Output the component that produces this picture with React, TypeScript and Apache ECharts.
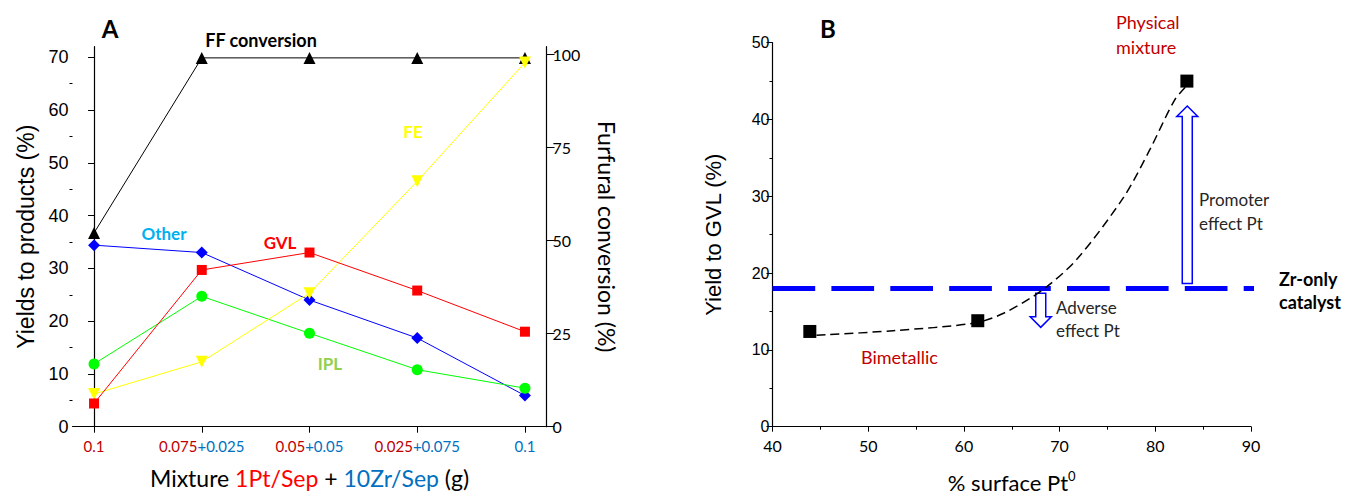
import React, { useEffect, useRef } from 'react';
import * as echarts from 'echarts';

// ---------- Panel A data ----------
const catRed = ['0.1', '0.075', '0.05', '0.025', ''];
const catBlue = ['', '+0.025', '+0.05', '+0.075', '0.1'];
const catPos = [0, 1, 2, 3, 4];
const gvl = [4.4, 29.7, 33.0, 25.8, 18.0];
const other = [34.4, 33.0, 24.0, 16.8, 5.9];
const ipl = [11.9, 24.7, 17.7, 10.8, 7.3];
const fe = [6.2, 12.3, 25.3, 46.5, 69.0];
const ffConversion = [52, 99, 99, 99, 99];
const leftTicks = [0, 10, 20, 30, 40, 50, 60, 70];
const leftMinorTicks = [5, 15, 25, 35, 45, 55, 65];
const rightTicks = [0, 25, 50, 75, 100];

// ---------- Panel B data ----------
const surfacePt = [43.9, 61.45, 83.3];
const yieldGVL = [12.4, 13.8, 45.0];
const fitX = [44.6, 52.6, 61.1, 64.2, 68.2, 71.8, 76.7, 79.4, 82.0, 83.2];
const fitY = [11.9, 12.5, 13.5, 14.8, 17.8, 21.8, 29.9, 36.0, 42.5, 44.3];
const zrOnlyYield = 18;
const zrLineX = [40, 93.1];
// [x, from, to]
const effectArrows = [
  [83.34, 18.65, 41.76],
  [68.03, 17.37, 12.94],
];

const pair = (xs: number[], ys: number[]) => xs.map((x, i) => [x, ys[i]]);

const LATO = 'Lato, "Open Sans", sans-serif';
const ARIAL = '"Liberation Sans", Arial, sans-serif';

export default function App() {
  const ref = useRef<HTMLDivElement>(null);
  useEffect(() => {
    document.body.style.margin = '0';
    const chart = echarts.init(ref.current!, null, { renderer: 'svg' });
    const axisLine = { show: true, lineStyle: { color: '#000', width: 1.2 } };
    const txt = (x: number, y: number, text: string, fill: string, size: number, bold = false, align = 'left', font = LATO) => ({
      type: 'text', x, y,
      style: { text, fill, fontSize: size, fontWeight: bold ? 'bold' : 'normal', fontFamily: font, textAlign: align, textVerticalAlign: 'middle' },
    });

    const option: any = {
      animation: false,
      textStyle: { fontFamily: LATO },
      grid: [
        { left: 72.5, top: 46.7, width: 474, height: 380, outerBoundsMode: 'none', containLabel: false },
        { left: 772.5, top: 42.7, width: 478.5, height: 384, outerBoundsMode: 'none', containLabel: false },
      ],
      xAxis: [
        {
          gridIndex: 0, type: 'value', min: -0.2, max: 4.2,
          axisLine, splitLine: { show: false },
          axisTick: { show: true, customValues: catPos, length: 6, lineStyle: { color: '#000' } },
          axisLabel: {
            customValues: catPos, margin: 12,
            formatter: (v: number) => {
              const i = Math.round(v);
              let s = '';
              if (catRed[i]) s += `{r|${catRed[i]}}`;
              if (catBlue[i]) s += `{b|${catBlue[i]}}`;
              return s;
            },
            rich: {
              r: { color: '#c00000', fontSize: 15, fontFamily: LATO },
              b: { color: '#0070c0', fontSize: 15, fontFamily: LATO },
            },
          },
          name: '{k|Mixture }{r|1Pt/Sep}{k| + }{b|10Zr/Sep}{k| (g)}',
          nameLocation: 'middle', nameGap: 40,
          nameTextStyle: {
            rich: {
              k: { color: '#000', fontSize: 23, fontFamily: LATO },
              r: { color: '#ff0000', fontSize: 23, fontFamily: LATO },
              b: { color: '#0070c0', fontSize: 23, fontFamily: LATO },
            },
          },
        },
        {
          gridIndex: 1, type: 'value', min: 40, max: 90, interval: 10,
          axisLine, splitLine: { show: false },
          axisTick: { show: true, length: 5, lineStyle: { color: '#000' } },
          minorTick: { show: true, splitNumber: 2, length: 3, lineStyle: { color: '#000' } },
          axisLabel: { color: '#000', fontSize: 16, fontFamily: LATO, margin: 11 },
          name: '{k|% surface Pt}{s|0}',
          nameLocation: 'middle', nameGap: 43,
          nameTextStyle: {
            rich: {
              k: { color: '#000', fontSize: 22, fontFamily: LATO },
              s: { color: '#000', fontSize: 13, fontFamily: LATO, verticalAlign: 'top', padding: [0, 0, 13, 0] },
            },
          },
        },
      ],
      yAxis: [
        {
          gridIndex: 0, type: 'value', min: 0, max: 72, position: 'left',
          axisLine, splitLine: { show: false },
          axisTick: { show: true, customValues: leftTicks, length: 6, lineStyle: { color: '#000' } },
          axisLabel: { customValues: leftTicks, color: '#000', fontSize: 18, fontFamily: ARIAL, margin: 4 },
          name: 'Yields to products (%)', nameLocation: 'middle', nameRotate: 90, nameGap: 35,
          nameTextStyle: { color: '#000', fontSize: 23, fontFamily: ARIAL },
        },
        {
          gridIndex: 0, type: 'value', min: 0, max: 72, position: 'left',
          axisLine: { show: false }, splitLine: { show: false },
          axisTick: { show: true, customValues: leftMinorTicks, length: 3, lineStyle: { color: '#000' } },
          axisLabel: { show: false },
        },
        {
          gridIndex: 0, type: 'value', min: 0, max: 102, position: 'right',
          axisLine, splitLine: { show: false },
          axisTick: { show: true, customValues: rightTicks, length: 8, lineStyle: { color: '#000' } },
          axisLabel: { customValues: rightTicks, color: '#000', fontSize: 16, fontFamily: LATO, margin: 6 },
          name: 'Furfural conversion (%)', nameLocation: 'middle', nameRotate: -90, nameGap: 49,
          nameTextStyle: { color: '#000', fontSize: 23, fontFamily: LATO },
        },
        {
          gridIndex: 1, type: 'value', min: 0, max: 50, interval: 10, position: 'left',
          axisLine, splitLine: { show: false },
          axisTick: { show: true, length: 6, lineStyle: { color: '#000' } },
          minorTick: { show: true, splitNumber: 2, length: 3, lineStyle: { color: '#000' } },
          axisLabel: { color: '#000', fontSize: 16, fontFamily: ARIAL, margin: 3 },
          name: 'Yield to GVL (%)', nameLocation: 'middle', nameRotate: 90, nameGap: 48,
          nameTextStyle: { color: '#000', fontSize: 22, fontFamily: ARIAL },
        },
      ],
      series: [
        {
          name: 'FF conversion', type: 'line', xAxisIndex: 0, yAxisIndex: 2,
          data: pair(catPos, ffConversion), symbol: 'triangle', symbolSize: 12,
          itemStyle: { color: '#000' }, lineStyle: { color: '#000', width: 1 },
        },
        {
          name: 'Other', type: 'line', xAxisIndex: 0, yAxisIndex: 0,
          data: pair(catPos, other), symbol: 'diamond', symbolSize: 12,
          itemStyle: { color: '#0000ff' }, lineStyle: { color: '#0000ff', width: 1 },
        },
        {
          name: 'IPL', type: 'line', xAxisIndex: 0, yAxisIndex: 0,
          data: pair(catPos, ipl), symbol: 'circle', symbolSize: 11,
          itemStyle: { color: '#00ff00' }, lineStyle: { color: '#00ff00', width: 1 },
        },
        {
          name: 'FE', type: 'line', xAxisIndex: 0, yAxisIndex: 0,
          data: pair(catPos, fe), symbol: 'triangle', symbolRotate: 180, symbolSize: 12,
          itemStyle: { color: '#ffff00' }, lineStyle: { color: '#ffff00', width: 1 },
        },
        {
          name: 'GVL', type: 'line', xAxisIndex: 0, yAxisIndex: 0,
          data: pair(catPos, gvl), symbol: 'rect', symbolSize: 10,
          itemStyle: { color: '#ff0000' }, lineStyle: { color: '#ff0000', width: 1 },
        },
        // Panel B
        {
          name: 'Zr-only', type: 'line', xAxisIndex: 1, yAxisIndex: 3, clip: false,
          data: zrLineX.map((x) => [x, zrOnlyYield]), symbol: 'none',
          lineStyle: { color: '#0000ff', width: 5, type: [42.7, 16.2] },
        },
        {
          name: 'fit', type: 'line', xAxisIndex: 1, yAxisIndex: 3, smooth: 0.3,
          data: pair(fitX, fitY), symbol: 'none',
          lineStyle: { color: '#000', width: 1.5, type: [9, 5] },
        },
        {
          name: 'arrows', type: 'custom', xAxisIndex: 1, yAxisIndex: 3,
          data: effectArrows, encode: { x: 0, y: [1, 2] },
          renderItem: (params: any, api: any) => {
            const x = api.value(0), y0 = api.value(1), y1 = api.value(2);
            const p0 = api.coord([x, y0]);
            const p1 = api.coord([x, y1]);
            const dir = p1[1] < p0[1] ? -1 : 1;
            const headLen = 10.5, headHalf = 10.5, shaftHalf = 5;
            const cx = p0[0];
            const baseY = p1[1] - dir * headLen;
            return {
              type: 'polygon',
              shape: {
                points: [
                  [cx - shaftHalf, p0[1]], [cx - shaftHalf, baseY], [cx - headHalf, baseY],
                  [cx, p1[1]], [cx + headHalf, baseY], [cx + shaftHalf, baseY], [cx + shaftHalf, p0[1]],
                ],
              },
              style: { fill: '#fff', stroke: '#0000ff', lineWidth: 1.5 },
            };
          },
        },
        {
          name: 'points', type: 'scatter', xAxisIndex: 1, yAxisIndex: 3,
          data: pair(surfacePt, yieldGVL), symbol: 'rect', symbolSize: 13,
          itemStyle: { color: '#000', opacity: 1 },
        },
      ],
      graphic: [
        txt(110, 28, 'A', '#000', 24, true, 'center'),
        txt(261, 40, 'FF conversion', '#000', 18, true, 'center'),
        txt(164, 233, 'Other', '#00b0f0', 17, true, 'center'),
        txt(280, 242, 'GVL', '#ff0000', 17, true, 'center'),
        txt(413, 131, 'FE', '#ffff00', 17, true, 'center'),
        txt(330, 363, 'IPL', '#92d050', 17, true, 'center'),
        txt(828, 28, 'B', '#000', 24, true, 'center'),
        txt(1116, 22, 'Physical', '#c00000', 18),
        txt(1116, 47, 'mixture', '#c00000', 18),
        txt(1199, 199, 'Promoter', '#262626', 17),
        txt(1199, 223, 'effect Pt', '#262626', 17),
        txt(1056, 307, 'Adverse', '#262626', 17),
        txt(1056, 330, 'effect Pt', '#262626', 17),
        txt(861, 357, 'Bimetallic', '#c00000', 18),
        txt(1279, 279, 'Zr-only', '#000', 18, true),
        txt(1279, 302, 'catalyst', '#000', 18, true),
      ],
    };
    chart.setOption(option);
    return () => chart.dispose();
  }, []);
  return <div ref={ref} style={{ width: 1349, height: 496 }} />;
}
